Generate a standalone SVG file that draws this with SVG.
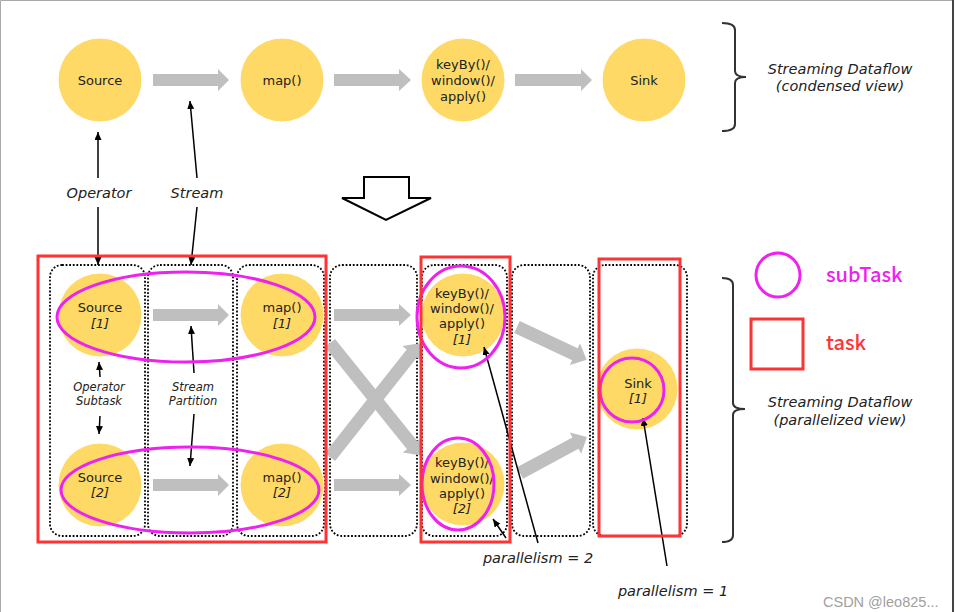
<svg xmlns="http://www.w3.org/2000/svg" width="955" height="612" viewBox="0 0 955 612">
<defs>
<style>
.bg{fill:#fff}
.node{fill:#FFD966;stroke:#fff;stroke-width:1}
.t{font-family:"DejaVu Sans",Verdana,sans-serif;font-size:13px;fill:#222;text-anchor:middle}
.ti{font-family:"DejaVu Sans",Verdana,sans-serif;font-size:13px;fill:#222;text-anchor:middle;font-style:italic}
.lab{font-family:"DejaVu Sans",Verdana,sans-serif;font-size:14.5px;fill:#222;text-anchor:middle;font-style:italic}
.small{font-family:"DejaVu Sans",Verdana,sans-serif;font-size:11.5px;fill:#222;text-anchor:middle;font-style:italic}
.flow{fill:#BFBFBF}
.col{fill:none;stroke:#000;stroke-width:1.8;stroke-dasharray:1.8 1.8}
.sub{fill:none;stroke:#EE22EE;stroke-width:3}
.task{fill:none;stroke:#F33;stroke-width:3}
.ptr{stroke:#000;stroke-width:1.5;fill:none;marker-end:url(#ah)}
.brace{fill:none;stroke:#333;stroke-width:2}
.leg{font-family:"Noto Sans CJK SC","Noto Sans",sans-serif;font-size:20px;font-weight:500}
</style>
<marker id="ah" markerUnits="userSpaceOnUse" markerWidth="9" markerHeight="8" refX="8" refY="3.5" orient="auto">
<path d="M0,0 L8,3.5 L0,7 z" fill="#000"/>
</marker>
</defs>
<rect class="bg" x="0" y="0" width="955" height="612"/>
<path d="M0.5,612 L0.5,0.5 L952,0.5" fill="none" stroke="#aaa" stroke-width="1"/>
<line x1="953" y1="0" x2="953" y2="612" stroke="#444" stroke-width="2"/>

<!-- dotted column boxes -->
<g id="columns">
<rect class="col" x="50" y="265" width="95" height="271" rx="12"/>
<rect class="col" x="148" y="265" width="85" height="271" rx="12"/>
<rect class="col" x="237" y="265" width="87" height="271" rx="12"/>
<rect class="col" x="330" y="265" width="87" height="271" rx="12"/>
<rect class="col" x="422" y="265" width="85" height="271" rx="12"/>
<rect class="col" x="512" y="265" width="78" height="271" rx="12"/>
<rect class="col" x="593" y="265" width="94" height="271" rx="12"/>
</g>

<!-- condensed view nodes -->
<g id="c-source"><circle class="node" cx="100" cy="80" r="42"/><text class="t" x="100" y="85">Source</text></g>
<g id="c-map"><circle class="node" cx="282" cy="80" r="42"/><text class="t" x="282" y="85">map()</text></g>
<g id="c-keyby"><circle class="node" cx="463" cy="80" r="42"/><text class="t" x="463" y="69">keyBy()/</text><text class="t" x="463" y="85">window()/</text><text class="t" x="463" y="101">apply()</text></g>
<g id="c-sink"><circle class="node" cx="644" cy="80" r="42"/><text class="t" x="644" y="85">Sink</text></g>

<!-- parallel view nodes -->
<g id="p-source1"><circle class="node" cx="100" cy="315" r="42"/><text class="t" x="100" y="312">Source</text><text class="ti" x="100" y="328">[1]</text></g>
<g id="p-source2"><circle class="node" cx="100" cy="485" r="42"/><text class="t" x="100" y="482">Source</text><text class="ti" x="100" y="497">[2]</text></g>
<g id="p-map1"><circle class="node" cx="282" cy="315" r="42"/><text class="t" x="282" y="312">map()</text><text class="ti" x="282" y="328">[1]</text></g>
<g id="p-map2"><circle class="node" cx="282" cy="485" r="42"/><text class="t" x="282" y="482">map()</text><text class="ti" x="282" y="497">[2]</text></g>
<g id="p-keyby1"><circle class="node" cx="463" cy="315" r="42"/><text class="t" x="462" y="298">keyBy()/</text><text class="t" x="462" y="313">window()/</text><text class="t" x="462" y="328">apply()</text><text class="ti" x="462" y="344">[1]</text></g>
<g id="p-keyby2"><circle class="node" cx="463" cy="484" r="42"/><text class="t" x="462" y="467">keyBy()/</text><text class="t" x="462" y="483">window()/</text><text class="t" x="462" y="498">apply()</text><text class="ti" x="462" y="513">[2]</text></g>
<g id="p-sink1"><circle class="node" cx="637" cy="389" r="41"/><text class="t" x="638" y="388">Sink</text><text class="ti" x="638" y="403">[1]</text></g>

<!-- connectors -->
<g id="connectors">
<polygon class="flow" points="153,74 218,74 218,69 229,80 218,91 218,86 153,86"/>
<polygon class="flow" points="334,74 399,74 399,69 411,80 399,91 399,86 334,86"/>
<polygon class="flow" points="515,74 581,74 581,69 592,80 581,91 581,86 515,86"/>
<polygon class="flow" points="153,309 218,309 218,304 229,315 218,326 218,321 153,321"/>
<polygon class="flow" points="153,479 218,479 218,474 229,485 218,496 218,491 153,491"/>
<polygon class="flow" points="334,309 399,309 399,304 411,315 399,326 399,321 334,321"/>
<polygon class="flow" points="334,479 399,479 399,474 411,485 399,496 399,491 334,491"/>
<polygon class="flow" transform="translate(330,343) rotate(51.2)" points="0,-6.5 131,-6.5 131,-12 144,0 131,12 131,6.5 0,6.5"/>
<polygon class="flow" transform="translate(330,457) rotate(-51.7)" points="0,-6.5 132,-6.5 132,-12 145,0 132,12 132,6.5 0,6.5"/>
<polygon class="flow" transform="translate(517,327) rotate(25.2)" points="0,-6.5 64,-6.5 64,-12 77,0 64,12 64,6.5 0,6.5"/>
<polygon class="flow" transform="translate(520,473) rotate(-28.3)" points="0,-6.5 63,-6.5 63,-12 76,0 63,12 63,6.5 0,6.5"/>

<line class="ptr" x1="98" y1="178" x2="98" y2="132"/>
<line class="ptr" x1="98" y1="207" x2="98" y2="265"/>
<line class="ptr" x1="197" y1="178" x2="190" y2="101"/>
<line class="ptr" x1="197" y1="207" x2="191" y2="265"/>
<line class="ptr" x1="100" y1="377" x2="99" y2="362"/>
<line class="ptr" x1="100" y1="416" x2="99" y2="434"/>
<line class="ptr" x1="194" y1="373" x2="191" y2="326"/>
<line class="ptr" x1="194" y1="414" x2="190" y2="466"/>
<line class="ptr" x1="538" y1="543" x2="484" y2="347"/>
<line class="ptr" x1="506" y1="538" x2="493" y2="519"/>
<line class="ptr" x1="667" y1="566" x2="643" y2="418"/>
</g>

<!-- subtask ellipses and task boxes -->
<g id="subtasks">
<ellipse class="sub" cx="186" cy="317" rx="129" ry="45"/>
<ellipse class="sub" cx="190" cy="490" rx="129" ry="43"/>
<ellipse class="sub" cx="461" cy="317" rx="44" ry="51"/>
<ellipse class="sub" cx="458" cy="484" rx="36" ry="46"/>
<circle class="sub" cx="632" cy="390" r="32"/>
</g>
<g id="tasks">
<rect class="task" x="38" y="256" width="288" height="286"/>
<rect class="task" x="421" y="257" width="89" height="285"/>
<rect class="task" x="599" y="259" width="81" height="277"/>
</g>

<!-- labels -->
<g id="labels">
<text class="lab" x="99" y="198">Operator</text>
<text class="lab" x="197" y="198">Stream</text>
<text class="small" x="99" y="391">Operator</text>
<text class="small" x="99" y="405">Subtask</text>
<text class="small" x="193" y="391">Stream</text>
<text class="small" x="193" y="405">Partition</text>
<text class="lab" x="538" y="563">parallelism = 2</text>
<text class="lab" x="673" y="596">parallelism = 1</text>
<text class="lab" x="840" y="74">Streaming Dataflow</text>
<text class="lab" x="840" y="91">(condensed view)</text>
<text class="lab" x="840" y="407">Streaming Dataflow</text>
<text class="lab" x="840" y="425">(parallelized view)</text>
</g>

<!-- braces and big arrow -->
<g id="brace-top"><path class="brace" d="M722,23 Q735,23 735,30 L735,71 Q735,77 746,77 Q735,77 735,83 L735,124 Q735,131 722,131"/></g>
<g id="brace-bottom"><path class="brace" d="M722,278 Q733,278 733,285 L733,403 Q733,409 745,409 Q733,409 733,415 L733,535 Q733,542 722,542"/></g>
<g id="down-arrow"><polygon points="364,177 409,177 409,198 431,198 386,220 342,198 364,198" fill="#fff" stroke="#000" stroke-width="2"/></g>

<!-- legend -->
<g id="legend">
<circle cx="778" cy="275" r="22" fill="none" stroke="#EE22EE" stroke-width="3"/>
<text class="leg" x="826" y="282" fill="#EE22EE">subTask</text>
<rect x="751" y="319" width="52" height="50" fill="none" stroke="#F33" stroke-width="3"/>
<text class="leg" x="826" y="350" fill="#F33">task</text>
</g>
<text x="823" y="607" font-family="'Liberation Sans',Arial,sans-serif" font-size="14.5" fill="#a0a0a0">CSDN @leo825...</text>
</svg>
